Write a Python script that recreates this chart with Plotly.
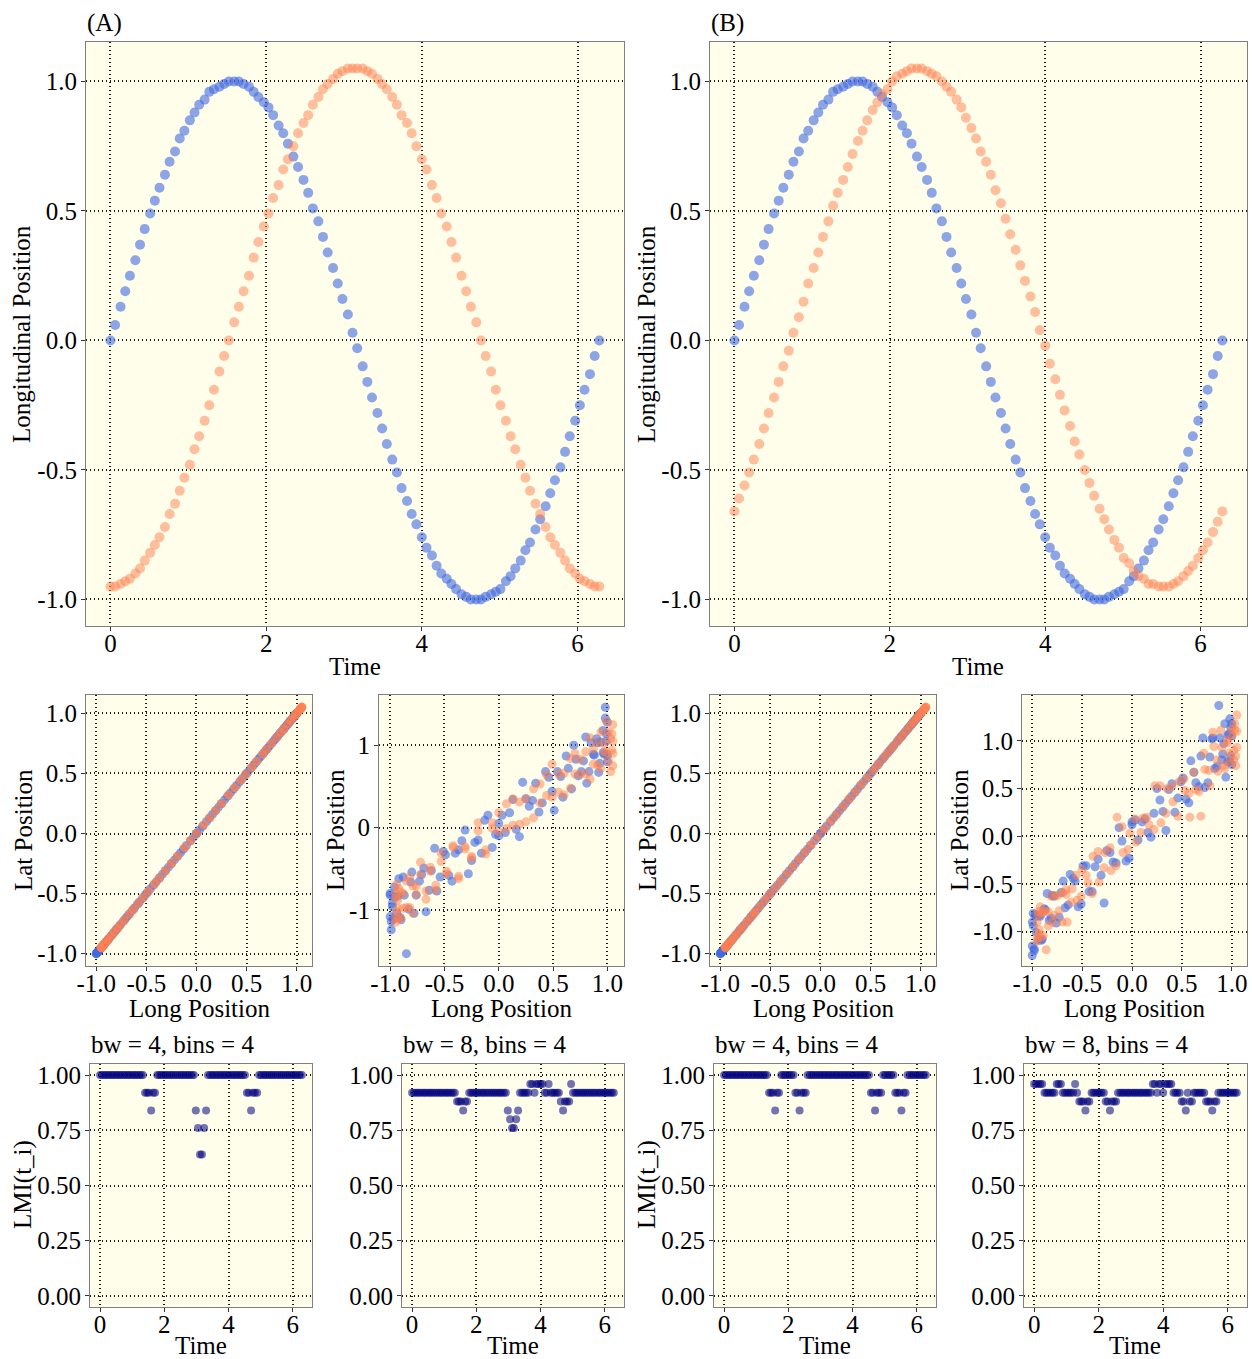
import plotly.graph_objects as go

# ---------------- data ----------------
time = [0.00, 0.06, 0.13, 0.19, 0.25, 0.32, 0.38, 0.44, 0.51, 0.57,
        0.63, 0.70, 0.76, 0.83, 0.89, 0.95, 1.02, 1.08, 1.14, 1.21,
        1.27, 1.33, 1.40, 1.46, 1.52, 1.59, 1.65, 1.71, 1.78, 1.84,
        1.90, 1.97, 2.03, 2.09, 2.16, 2.22, 2.28, 2.35, 2.41, 2.48,
        2.54, 2.60, 2.67, 2.73, 2.79, 2.86, 2.92, 2.98, 3.05, 3.11,
        3.17, 3.24, 3.30, 3.36, 3.43, 3.49, 3.55, 3.62, 3.68, 3.74,
        3.81, 3.87, 3.93, 4.00, 4.06, 4.13, 4.19, 4.25, 4.32, 4.38,
        4.44, 4.51, 4.57, 4.63, 4.70, 4.76, 4.82, 4.89, 4.95, 5.01,
        5.08, 5.14, 5.20, 5.27, 5.33, 5.39, 5.46, 5.52, 5.59, 5.65,
        5.71, 5.78, 5.84, 5.90, 5.97, 6.03, 6.09, 6.16, 6.22, 6.28]

long_blue = [0.00, 0.06, 0.13, 0.19, 0.25, 0.31, 0.37, 0.43, 0.49, 0.54,
             0.59, 0.64, 0.69, 0.73, 0.78, 0.81, 0.85, 0.88, 0.91, 0.93,
             0.96, 0.97, 0.98, 0.99, 1.00, 1.00, 1.00, 0.99, 0.98, 0.96,
             0.94, 0.92, 0.90, 0.87, 0.83, 0.80, 0.76, 0.71, 0.67, 0.62,
             0.57, 0.51, 0.46, 0.40, 0.34, 0.28, 0.22, 0.16, 0.10, 0.03,
             -0.03, -0.10, -0.16, -0.22, -0.28, -0.34, -0.40, -0.46, -0.51, -0.57,
             -0.62, -0.67, -0.71, -0.76, -0.80, -0.83, -0.87, -0.90, -0.92, -0.94,
             -0.96, -0.98, -0.99, -1.00, -1.00, -1.00, -0.99, -0.98, -0.97, -0.96,
             -0.93, -0.91, -0.88, -0.85, -0.81, -0.78, -0.73, -0.69, -0.64, -0.59,
             -0.54, -0.49, -0.43, -0.37, -0.31, -0.25, -0.19, -0.13, -0.06, 0.00]

long_orange_a = [-0.95, -0.95, -0.94, -0.93, -0.92, -0.90, -0.88, -0.85, -0.82, -0.79,
                 -0.76, -0.72, -0.67, -0.63, -0.58, -0.53, -0.48, -0.42, -0.37, -0.31,
                 -0.25, -0.19, -0.12, -0.06, 0.00, 0.07, 0.13, 0.19, 0.25, 0.32,
                 0.38, 0.44, 0.49, 0.55, 0.60, 0.66, 0.70, 0.75, 0.80, 0.84,
                 0.87, 0.91, 0.94, 0.97, 0.99, 1.01, 1.03, 1.04, 1.05, 1.05,
                 1.05, 1.05, 1.04, 1.03, 1.01, 0.99, 0.97, 0.94, 0.91, 0.87,
                 0.84, 0.80, 0.75, 0.70, 0.66, 0.60, 0.55, 0.49, 0.44, 0.38,
                 0.32, 0.25, 0.19, 0.13, 0.07, 0.00, -0.06, -0.12, -0.19, -0.25,
                 -0.31, -0.37, -0.42, -0.48, -0.53, -0.58, -0.63, -0.67, -0.72, -0.76,
                 -0.79, -0.82, -0.85, -0.88, -0.90, -0.92, -0.93, -0.94, -0.95, -0.95]

long_orange_b = [-0.66, -0.61, -0.56, -0.51, -0.46, -0.40, -0.34, -0.28, -0.22, -0.16,
                 -0.10, -0.04, 0.03, 0.09, 0.15, 0.22, 0.28, 0.34, 0.40, 0.46,
                 0.52, 0.57, 0.62, 0.67, 0.72, 0.77, 0.81, 0.85, 0.89, 0.92,
                 0.95, 0.97, 1.00, 1.02, 1.03, 1.04, 1.05, 1.05, 1.05, 1.04,
                 1.03, 1.02, 1.00, 0.98, 0.96, 0.93, 0.90, 0.86, 0.82, 0.78,
                 0.73, 0.69, 0.64, 0.58, 0.53, 0.47, 0.41, 0.35, 0.29, 0.23,
                 0.17, 0.11, 0.04, -0.02, -0.09, -0.15, -0.21, -0.27, -0.33, -0.39,
                 -0.44, -0.50, -0.55, -0.60, -0.65, -0.69, -0.73, -0.77, -0.80, -0.84,
                 -0.86, -0.89, -0.91, -0.92, -0.94, -0.94, -0.95, -0.95, -0.95, -0.94,
                 -0.93, -0.91, -0.89, -0.87, -0.84, -0.81, -0.78, -0.74, -0.70, -0.66]

# identical lat/long tracks (left middle panels)
lat_same_blue = long_blue
lat_same_orange_a = long_orange_a
lat_same_orange_b = long_orange_b

# noisy lat tracks
lat_noisy_a_blue = [0.05, -0.06, 0.34, -0.11, 0.35, 0.33, 0.19, 0.68, 0.44, 0.68,
                    0.37, 0.72, 1.00, 0.63, 0.81, 0.54, 1.03, 0.88, 1.03, 0.78,
                    1.18, 0.89, 1.33, 1.05, 0.80, 1.28, 0.88, 1.14, 1.46, 0.91,
                    1.04, 0.67, 1.08, 0.89, 0.68, 1.10, 0.68, 0.83, 0.47, 0.87,
                    0.62, 0.21, 0.61, 0.30, 0.54, 0.26, 0.55, -0.02, 0.18, 0.15,
                    -0.08, 0.15, -0.31, -0.18, -0.56, -0.16, -0.31, -0.58, -0.29, -0.77,
                    -0.52, -1.02, -0.57, -0.82, -0.54, -0.99, -0.82, -1.12, -0.62, -1.04,
                    -0.84, -0.96, -1.24, -0.82, -1.08, -0.80, -1.14, -0.92, -1.11, -0.72,
                    -0.83, -1.09, -0.60, -1.53, -0.66, -1.04, -0.65, -0.49, -0.76, -0.25,
                    -0.60, -0.33, -0.65, -0.27, -0.03, -0.40, -0.15, 0.09, -0.24, -0.10]

lat_noisy_a_orange = [-0.85, -1.10, -0.69, -0.98, -0.74, -1.10, -0.80, -0.97, -0.60, -1.04,
                      -0.71, -0.42, -0.77, -0.48, -0.76, -0.41, -0.53, -0.22, -0.59, -0.23,
                      -0.37, 0.06, -0.27, -0.01, 0.18, -0.01, 0.35, 0.04, 0.35, 0.12,
                      0.53, 0.39, 0.77, 0.43, 0.66, 0.48, 0.90, 0.65, 0.92, 0.59,
                      0.95, 0.76, 1.16, 0.92, 1.29, 0.81, 1.08, 0.94, 1.25, 0.75,
                      1.05, 0.90, 1.14, 0.68, 1.16, 0.91, 1.02, 0.72, 1.03, 0.77,
                      1.09, 0.65, 0.83, 0.65, 0.84, 0.40, 0.65, 0.37, 0.64, 0.30,
                      0.47, 0.07, 0.31, 0.03, 0.29, -0.05, 0.06, -0.32, -0.04, -0.35,
                      -0.26, -0.62, -0.24, -0.56, -0.31, -0.70, -0.53, -0.87, -0.57, -0.81,
                      -0.71, -0.97, -0.65, -0.98, -0.78, -1.10, -0.88, -1.02, -0.80, -1.15]

lat_noisy_b_blue = [0.15, -0.04, 0.18, -0.01, 0.50, 0.26, 0.49, 0.25, 0.57, 0.39,
                    0.79, 0.56, 0.84, 0.51, 0.83, 1.03, 0.73, 1.03, 0.86, 1.18,
                    0.78, 1.07, 1.23, 0.84, 1.18, 0.75, 1.05, 1.14, 0.78, 1.06,
                    0.62, 0.97, 0.80, 1.37, 0.71, 1.02, 0.56, 1.03, 0.52, 0.67,
                    0.35, 0.61, 0.40, 0.55, 0.06, 0.38, 0.24, 0.04, 0.15, 0.17,
                    -0.23, -0.05, -0.28, -0.17, -0.70, -0.24, -0.58, -0.31, -0.71, -0.47,
                    -0.40, -0.75, -0.59, -0.91, -0.62, -0.88, -0.77, -1.08, -0.84, -1.09,
                    -0.84, -1.20, -0.81, -1.25, -0.90, -1.15, -0.94, -1.18, -0.82, -1.01,
                    -0.83, -1.09, -0.76, -0.60, -0.86, -0.63, -0.85, -0.47, -0.72, -0.44,
                    -0.74, -0.31, -0.58, -0.32, -0.41, -0.15, -0.27, 0.09, -0.26, 0.12]

lat_noisy_b_orange = [-0.56, -0.69, -0.41, -0.63, -0.41, -0.60, -0.16, -0.33, -0.12, -0.31,
                      0.10, -0.14, 0.18, 0.04, 0.20, 0.07, 0.53, 0.24, 0.52, 0.21,
                      0.60, 0.45, 0.67, 0.47, 0.87, 0.69, 1.09, 0.80, 1.11, 0.74,
                      1.00, 0.87, 1.12, 0.80, 1.18, 0.74, 1.27, 0.93, 1.10, 0.84,
                      1.11, 0.90, 1.05, 0.78, 0.98, 0.71, 0.93, 0.68, 0.94, 0.53,
                      0.70, 0.21, 0.49, 0.20, 0.48, 0.57, 0.36, 0.50, 0.14, 0.53,
                      0.12, 0.19, -0.06, 0.03, -0.17, 0.20, -0.36, -0.17, -0.48, -0.21,
                      -0.49, -0.35, -0.67, -0.55, -0.90, -0.59, -0.78, -0.62, -0.90, -0.79,
                      -1.19, -0.79, -1.06, -0.74, -1.02, -0.79, -1.07, -0.90, -1.10, -0.82,
                      -0.98, -0.81, -1.04, -0.79, -0.94, -0.63, -0.83, -0.62, -0.90, -0.61]

# LMI values
lmi_a_bw4 = [1.00] * 10 + [1.00] * 10 + \
    [1.00, 1.00, 0.92, 0.92, 0.92, 0.84, 0.92, 0.92, 1.00, 1.00] + [1.00] * 10 + \
    [1.00] * 7 + [0.84, 0.76, 0.64] + [0.64, 0.76, 0.84] + [1.00] * 7 + [1.00] * 10 + \
    [1.00, 1.00, 0.92, 0.92, 0.84, 0.92, 0.92, 0.92, 1.00, 1.00] + [1.00] * 10 + [1.00] * 10

lmi_a_bw8 = [0.92] * 10 + [0.92] * 10 + \
    [0.92, 0.92, 0.88, 0.88, 0.88, 0.84, 0.88, 0.88, 0.92, 0.92] + [0.92] * 10 + \
    [0.92] * 7 + [0.84, 0.80, 0.76] + \
    [0.76, 0.80, 0.84, 0.92, 0.92, 0.92, 0.92, 0.92, 0.96, 0.96] + \
    [0.92, 0.96, 0.96, 0.96, 0.96, 0.92, 0.92, 0.96, 0.92, 0.92] + \
    [0.92, 0.92, 0.92, 0.88, 0.84, 0.88, 0.88, 0.88, 0.96, 0.92] + [0.92] * 10 + [0.92] * 10

lmi_b_bw4 = [1.00] * 10 + [1.00] * 10 + \
    [1.00, 1.00, 0.92, 0.92, 0.92, 0.84, 0.92, 0.92, 1.00, 1.00] + \
    [1.00, 1.00, 1.00, 1.00, 1.00, 0.92, 0.92, 0.84, 0.92, 0.92] + \
    [0.92] + [1.00] * 9 + [1.00] * 10 + [1.00] * 10 + \
    [1.00, 1.00, 0.92, 0.92, 0.84, 0.92, 0.92, 0.92, 1.00, 1.00] + \
    [1.00, 1.00, 1.00, 1.00, 0.92, 0.92, 0.92, 0.84, 0.92, 0.92] + [1.00] * 10

lmi_b_bw8 = [0.96, 0.96, 0.96, 0.96, 0.96, 0.92, 0.92, 0.92, 0.92, 0.92] + \
    [0.92, 0.96, 0.96, 0.96, 0.92, 0.92, 0.92, 0.92, 0.92, 0.92] + \
    [0.96, 0.92, 0.88, 0.88, 0.88, 0.84, 0.88, 0.88, 0.92, 0.92] + \
    [0.92, 0.92, 0.92, 0.92, 0.92, 0.88, 0.88, 0.84, 0.88, 0.88] + \
    [0.88] + [0.92] * 9 + \
    [0.92, 0.92, 0.92, 0.92, 0.92, 0.92, 0.92, 0.92, 0.96, 0.96] + \
    [0.92, 0.96, 0.96, 0.92, 0.96, 0.96, 0.96, 0.96, 0.92, 0.92] + \
    [0.92, 0.92, 0.88, 0.88, 0.84, 0.92, 0.88, 0.88, 0.92, 0.92] + \
    [0.92, 0.92, 0.92, 0.92, 0.88, 0.88, 0.88, 0.84, 0.88, 0.88] + [0.92] * 10

# tick labels
time_ticks = [0, 2, 4, 6]
time_labels = ["0", "2", "4", "6"]
pos_ticks = [-1.0, -0.5, 0.0, 0.5, 1.0]
pos_labels = ["-1.0", "-0.5", "0.0", "0.5", "1.0"]
lat_int_ticks = [-1, 0, 1]
lat_int_labels = ["-1", "0", "1"]
lmi_ticks = [0.0, 0.25, 0.5, 0.75, 1.0]
lmi_labels = ["0.00", "0.25", "0.50", "0.75", "1.00"]

# ---------------- styling ----------------
W, H = 1252, 1359
FONT = "Liberation Serif"
FS = 25
BG = "#FEFEEA"
BLUE = "rgba(65,105,225,0.6)"
ORANGE = "rgba(255,127,80,0.5)"
NAVY = "rgba(0,0,128,0.55)"

TOP_Y = (42, 626)
MID_Y = (695, 966)
BOT_Y = (1064, 1307)
TIME_R = [-0.314, 6.597]
POS_R = [-1.1025, 1.1525]

panels = [
    dict(x=(86, 624), y=TOP_Y, xr=TIME_R, yr=POS_R, xt=(time_ticks, time_labels), yt=(pos_ticks, pos_labels),
         series=[(time, long_blue, BLUE, 10), (time, long_orange_a, ORANGE, 10)]),
    dict(x=(710, 1247), y=TOP_Y, xr=TIME_R, yr=POS_R, xt=(time_ticks, time_labels), yt=(pos_ticks, pos_labels),
         series=[(time, long_blue, BLUE, 10), (time, long_orange_b, ORANGE, 10)]),
    dict(x=(86, 312), y=MID_Y, xr=POS_R, yr=POS_R, xt=(pos_ticks, pos_labels), yt=(pos_ticks, pos_labels),
         series=[(long_blue, lat_same_blue, BLUE, 9), (long_orange_a, lat_same_orange_a, ORANGE, 9)]),
    dict(x=(379, 624), y=MID_Y, xr=POS_R, yr=[-1.68, 1.61], xt=(pos_ticks, pos_labels), yt=(lat_int_ticks, lat_int_labels),
         series=[(long_blue, lat_noisy_a_blue, BLUE, 9), (long_orange_a, lat_noisy_a_orange, ORANGE, 9)]),
    dict(x=(710, 936), y=MID_Y, xr=POS_R, yr=POS_R, xt=(pos_ticks, pos_labels), yt=(pos_ticks, pos_labels),
         series=[(long_blue, lat_same_blue, BLUE, 9), (long_orange_b, lat_same_orange_b, ORANGE, 9)]),
    dict(x=(1022, 1247), y=MID_Y, xr=POS_R, yr=[-1.36, 1.48], xt=(pos_ticks, pos_labels), yt=(pos_ticks, pos_labels),
         series=[(long_blue, lat_noisy_b_blue, BLUE, 9), (long_orange_b, lat_noisy_b_orange, ORANGE, 9)]),
    dict(x=(90, 312), y=BOT_Y, xr=TIME_R, yr=[-0.05, 1.05], xt=(time_ticks, time_labels), yt=(lmi_ticks, lmi_labels),
         series=[(time, lmi_a_bw4, NAVY, 8)]),
    dict(x=(402, 624), y=BOT_Y, xr=TIME_R, yr=[-0.05, 1.05], xt=(time_ticks, time_labels), yt=(lmi_ticks, lmi_labels),
         series=[(time, lmi_a_bw8, NAVY, 8)]),
    dict(x=(714, 936), y=BOT_Y, xr=TIME_R, yr=[-0.05, 1.05], xt=(time_ticks, time_labels), yt=(lmi_ticks, lmi_labels),
         series=[(time, lmi_b_bw4, NAVY, 8)]),
    dict(x=(1024, 1247), y=BOT_Y, xr=TIME_R, yr=[-0.05, 1.05], xt=(time_ticks, time_labels), yt=(lmi_ticks, lmi_labels),
         series=[(time, lmi_b_bw8, NAVY, 8)]),
]


def axis_style(domain, rng, ticks, anchor, standoff):
    return dict(
        domain=domain, range=rng, anchor=anchor, automargin=False,
        tickmode="array", tickvals=ticks[0], ticktext=ticks[1],
        showgrid=True, gridcolor="#1a1a1a", griddash="1px,3px", gridwidth=1.5,
        zeroline=False, showline=True, mirror=True, linecolor="#7F7F7F", linewidth=1.2,
        ticks="outside", ticklen=4, tickwidth=1, tickcolor="#333333",
        ticklabelstandoff=standoff,
        tickfont=dict(family=FONT, size=FS, color="black"),
    )


fig = go.Figure()
layout = {}
for i, p in enumerate(panels, 1):
    suf = "" if i == 1 else str(i)
    xd = [p["x"][0] / W, p["x"][1] / W]
    yd = [1 - p["y"][1] / H, 1 - p["y"][0] / H]
    layout["xaxis" + suf] = axis_style(xd, p["xr"], p["xt"], "y" + suf, -9)
    layout["yaxis" + suf] = axis_style(yd, p["yr"], p["yt"], "x" + suf, -1)
    for xs, ys, col, sz in p["series"]:
        fig.add_trace(go.Scatter(
            x=xs, y=ys, mode="markers", xaxis="x" + suf, yaxis="y" + suf,
            marker=dict(color=col, size=sz, line=dict(width=0)),
            showlegend=False, hoverinfo="skip", cliponaxis=False))


def ann(text, px, py, angle=0, xanchor="center"):
    return dict(text=text, x=px / W, y=1 - py / H, xref="paper", yref="paper",
                showarrow=False, textangle=angle, xanchor=xanchor, yanchor="middle",
                font=dict(family=FONT, size=FS, color="black"))


annotations = [
    ann("(A)", 85, 23, xanchor="left"),
    ann("(B)", 709, 23, xanchor="left"),
    ann("Longitudinal Position", 22, 334, -90),
    ann("Longitudinal Position", 647, 334, -90),
    ann("Time", 355, 666),
    ann("Time", 978, 666),
    ann("Lat Position", 23, 830, -90),
    ann("Lat Position", 335, 830, -90),
    ann("Lat Position", 647, 830, -90),
    ann("Lat Position", 959, 830, -90),
    ann("Long Position", 199, 1008),
    ann("Long Position", 501, 1008),
    ann("Long Position", 823, 1008),
    ann("Long Position", 1134, 1008),
    ann("bw = 4, bins = 4", 89, 1044, xanchor="left"),
    ann("bw = 8, bins = 4", 401, 1044, xanchor="left"),
    ann("bw = 4, bins = 4", 713, 1044, xanchor="left"),
    ann("bw = 8, bins = 4", 1023, 1044, xanchor="left"),
    ann("LMI(t_i)", 23, 1185, -90),
    ann("LMI(t_i)", 647, 1185, -90),
    ann("Time", 201, 1345),
    ann("Time", 513, 1345),
    ann("Time", 825, 1345),
    ann("Time", 1135, 1345),
]

fig.update_layout(
    width=W, height=H,
    margin=dict(l=0, r=0, t=0, b=0, autoexpand=False),
    paper_bgcolor="white", plot_bgcolor=BG,
    font=dict(family=FONT, size=FS, color="black"),
    annotations=annotations,
    **layout,
)

fig.write_html("out.html",
               config={"displayModeBar": False},
               post_script="document.body.style.margin='0';document.body.style.padding='0';")
